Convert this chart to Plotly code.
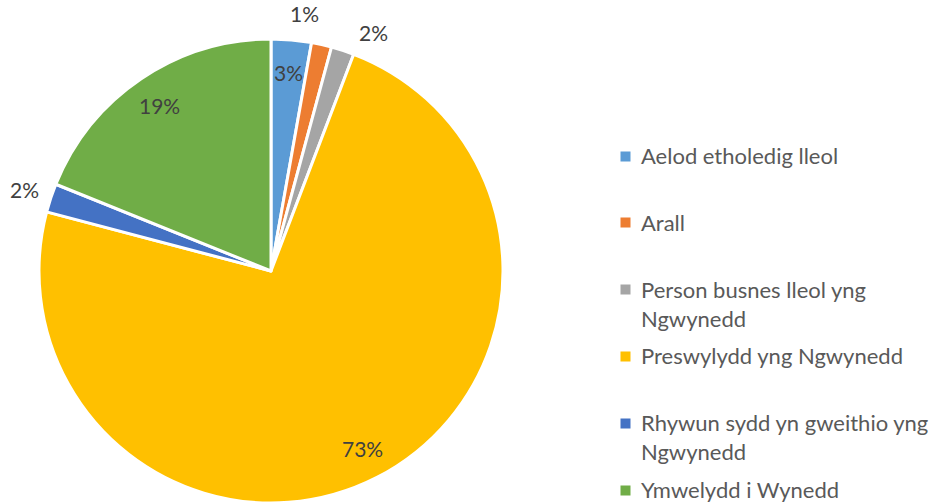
import math
import plotly.graph_objects as go

# ---- data ----
categories = [
    "Aelod etholedig lleol",
    "Arall",
    "Person busnes lleol yng Ngwynedd",
    "Preswylydd yng Ngwynedd",
    "Rhywun sydd yn gweithio yng Ngwynedd",
    "Ymwelydd i Wynedd",
]
legend_labels = [
    "Aelod etholedig lleol",
    "Arall",
    "Person busnes lleol yng<br>Ngwynedd",
    "Preswylydd yng Ngwynedd",
    "Rhywun sydd yn gweithio yng<br>Ngwynedd",
    "Ymwelydd i Wynedd",
]
values = [2.8, 1.4, 1.6, 73.3, 2.0, 18.9]
pct_labels = ["3%", "1%", "2%", "73%", "2%", "19%"]
label_inside = [True, False, False, True, False, True]
colors = ["#5B9BD5", "#ED7D31", "#A5A5A5", "#FFC000", "#4472C4", "#70AD47"]

# ---- layout constants ----
W, H = 933, 504
CX, CY, R = 271, 271, 232
FONT = "Lato"
TXT = "#404040"
LEG = "#595959"

dom_x = [(CX - R) / W, (CX + R) / W]
dom_y = [1 - (CY + R) / H, 1 - (CY - R) / H]

fig = go.Figure()
fig.add_trace(go.Pie(
    labels=categories, values=values, sort=False, direction="clockwise",
    rotation=0, textinfo="none", hoverinfo="label+percent",
    marker=dict(colors=colors, line=dict(color="white", width=3)),
    domain=dict(x=dom_x, y=dom_y), showlegend=False,
))

# percentage labels placed from the data (angles from cumulative values)
total = sum(values)
cum = 0
angles = []
for v in values:
    angles.append(360 * (cum + v / 2) / total)
    cum += v
# spread adjacent outside labels apart
ang = list(angles)
min_sep = 16
for _ in range(20):
    for i in range(len(ang) - 1):
        if not label_inside[i] and not label_inside[i + 1]:
            d = ang[i + 1] - ang[i]
            if d < min_sep:
                push = (min_sep - d) / 2
                ang[i] -= push
                ang[i + 1] += push

annotations = []
for i, lab in enumerate(pct_labels):
    r = R * 0.86 if label_inside[i] else R * 1.12
    a = math.radians(ang[i])
    px = CX + r * math.sin(a)
    py = CY - r * math.cos(a)
    annotations.append(dict(
        x=px / W, y=1 - py / H, xref="paper", yref="paper", text=lab,
        showarrow=False, xanchor="center", yanchor="middle",
        font=dict(family=FONT, size=21, color=TXT),
    ))

# legend built from categories
LEG_X_BOX = 625
LEG_X_TXT = 640
LEG_Y0 = 156
LEG_DY = 66.8
for i, lab in enumerate(legend_labels):
    yc = LEG_Y0 + LEG_DY * i
    annotations.append(dict(
        x=LEG_X_BOX / W, y=1 - yc / H, xref="paper", yref="paper", text=" ",
        showarrow=False, xanchor="center", yanchor="middle", width=9, height=9,
        bgcolor=colors[i], borderpad=0, font=dict(size=6),
    ))
    annotations.append(dict(
        x=LEG_X_TXT / W, y=1 - (yc - 15) / H, xref="paper", yref="paper",
        text=lab, showarrow=False, xanchor="left", yanchor="top", align="left",
        font=dict(family=FONT, size=22, color=LEG), borderpad=0,
    ))

fig.update_layout(
    width=W, height=H, margin=dict(l=0, r=0, t=0, b=0),
    paper_bgcolor="white", plot_bgcolor="white",
    annotations=annotations, showlegend=False,
)
fig.write_html("out.html")
